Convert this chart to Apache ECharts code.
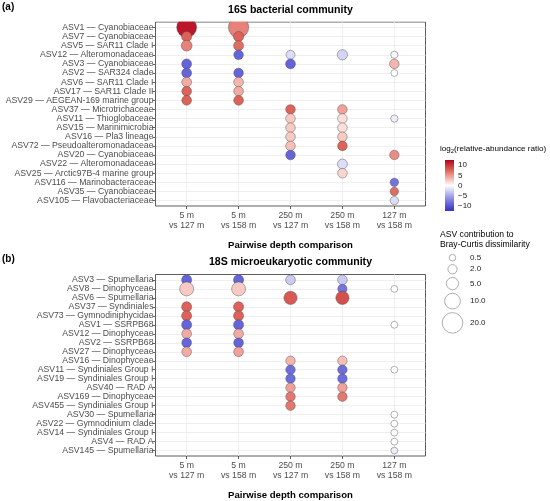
<!DOCTYPE html>
<html>
<head>
<meta charset="utf-8">
<script src="https://cdn.jsdelivr.net/npm/echarts@6/dist/echarts.min.js"></script>
<style>
html, body { margin: 0; padding: 0; background: #fff; }
#chart { width: 550px; height: 501px; }
</style>
</head>
<body>
<div id="chart"></div>
<script>
const comparisons = ['5 m\nvs 127 m', '5 m\nvs 158 m', '250 m\nvs 127 m', '250 m\nvs 158 m', '127 m\nvs 158 m']

const bactTaxa = [
    'ASV1 — Cyanobiaceae', 'ASV7 — Cyanobiaceae', 'ASV5 — SAR11 Clade I', 'ASV12 — Alteromonadaceae',
    'ASV3 — Cyanobiaceae', 'ASV2 — SAR324 clade', 'ASV6 — SAR11 Clade I', 'ASV17 — SAR11 Clade II',
    'ASV29 — AEGEAN-169 marine group', 'ASV37 — Microtrichaceae', 'ASV11 — Thioglobaceae', 'ASV15 — Marinimicrobia',
    'ASV16 — Pla3 lineage', 'ASV72 — Pseudoalteromonadaceae', 'ASV20 — Cyanobiaceae', 'ASV22 — Alteromonadaceae',
    'ASV25 — Arctic97B-4 marine group', 'ASV116 — Marinobacteraceae', 'ASV35 — Cyanobiaceae', 'ASV105 — Flavobacteriaceae'
]

const euTaxa = [
    'ASV3 — Spumellaria', 'ASV8 — Dinophyceae', 'ASV6 — Spumellaria', 'ASV37 — Syndiniales',
    'ASV73 — Gymnodiniphycidae', 'ASV1 — SSRPB68', 'ASV12 — Dinophyceae', 'ASV2 — SSRPB68',
    'ASV27 — Dinophyceae', 'ASV16 — Dinophyceae', 'ASV11 — Syndiniales Group I', 'ASV19 — Syndiniales Group I',
    'ASV40 — RAD A', 'ASV169 — Dinophyceae', 'ASV455 — Syndiniales Group I', 'ASV30 — Spumellaria',
    'ASV22 — Gymnodinium clade', 'ASV14 — Syndiniales Group I', 'ASV4 — RAD A', 'ASV145 — Spumellaria'
]

// [comparison, taxon, log2 ratio, contribution]
const bactPoints = [
    [0, 0, 11.5, 18.5], [0, 1, 7.5, 2.8], [0, 2, 6, 3.4], [0, 4, -9, 2.5], [0, 5, -9, 2.5],
    [0, 6, 4, 2.5], [0, 7, 7.5, 2.4], [0, 8, 7.5, 2.4],
    [1, 0, 6, 19.5], [1, 1, 7.5, 2.8], [1, 2, 7, 2.6], [1, 3, -9, 2.3], [1, 5, -9, 2.3],
    [1, 6, 3.5, 2.4], [1, 7, 4, 2.4], [1, 8, 7.5, 2.4],
    [2, 3, -2, 1.8], [2, 4, -9, 2.5], [2, 9, 7.5, 2.3], [2, 10, 2.5, 2.3], [2, 11, 2.5, 2.3],
    [2, 12, 2.5, 2.3], [2, 13, 3, 2.3], [2, 14, -9, 2.3],
    [3, 3, -2.5, 2.9], [3, 9, 4.5, 2.3], [3, 10, 1.5, 2.3], [3, 11, 1.5, 2.3], [3, 12, 2.5, 2.3],
    [3, 13, 7.5, 2.3], [3, 15, -2, 2.6], [3, 16, 2, 2.3],
    [4, 3, -0.5, 0.8], [4, 4, 3.5, 2.2], [4, 5, 0, 0.6], [4, 10, -1, 0.8], [4, 14, 5.5, 2.2],
    [4, 17, -8, 1.4], [4, 18, 7, 1.4], [4, 19, -2, 1.4]
]

const euPoints = [
    [0, 0, -9, 2.7], [0, 1, 2.5, 7.3], [0, 3, 7.5, 2.7], [0, 4, 7.5, 2.7], [0, 5, -9, 2.7],
    [0, 6, 4, 2.4], [0, 7, -9, 2.4], [0, 8, 4, 2.4],
    [1, 0, -9, 2.7], [1, 1, 2.5, 7.3], [1, 3, 7.5, 2.7], [1, 4, 7.5, 2.7], [1, 5, -9, 2.7],
    [1, 6, 4, 2.4], [1, 7, -9, 2.4], [1, 8, 4.5, 2.4],
    [2, 0, -3, 2.4], [2, 2, 8, 6.3], [2, 9, 3.5, 2.2], [2, 10, -8.5, 2.2], [2, 11, -8.5, 2.2],
    [2, 12, 4.5, 2.2], [2, 13, 6.5, 2.2], [2, 14, 6.5, 2.2],
    [3, 0, -3, 2.4], [3, 1, -8, 2.0], [3, 2, 8.5, 6.3], [3, 9, 3, 2.2], [3, 10, -8.5, 2.2],
    [3, 11, -8.5, 2.2], [3, 12, 4.5, 2.2], [3, 13, 6.5, 2.2],
    [4, 1, 0, 0.6], [4, 5, 0, 0.6], [4, 10, 0, 0.6], [4, 15, 0, 0.6], [4, 16, 0, 0.6],
    [4, 17, 0, 0.6], [4, 18, 0, 0.6], [4, 19, -1, 0.6]
]

const ratioTicks = [10, 5, 0, -5, -10]
const ratioMin = -12.5
const ratioMax = 12.5
const ratioColors = ['#3434c0', '#5656d4', '#7c7ce0', '#a6a6ea', '#d4d4f4', '#ffffff',
    '#f7cac4', '#ec988e', '#dc625a', '#c83638', '#b2001f']
const sizeBreaks = [0.5, 2, 5, 10, 20]

const font = 'Liberation Sans'
const diam = v => 4 + 3.7 * Math.sqrt(v)
const idx = arr => arr.map((_, i) => i)

const panels = [
    { top: 22, height: 184, taxa: bactTaxa, points: bactPoints, tag: '(a)', title: '16S bacterial community', tagY: 7, titleY: 10.5 },
    { top: 274.5, height: 185, taxa: euTaxa, points: euPoints, tag: '(b)', title: '18S microeukaryotic community', tagY: 259, titleY: 262 }
]

const chart = echarts.init(document.getElementById('chart'))

const graphics = []
// ggplot clips points to the panel: mask what sticks out above the top panel
graphics.push({ type: 'rect', z: 15, shape: { x: 150, y: 0, width: 280, height: 21.5 }, style: { fill: '#fff' } })
panels.forEach(p => {
    graphics.push({
        type: 'text', z: 20, x: 2, y: p.tagY,
        style: { text: p.tag, fontSize: 10, fontWeight: 'bold', fontFamily: font, fill: '#000', align: 'left', verticalAlign: 'middle' }
    })
    graphics.push({
        type: 'text', z: 20, x: 290.5, y: p.titleY,
        style: { text: p.title, fontSize: 10.6, fontWeight: 'bold', fontFamily: font, fill: '#000', align: 'center', verticalAlign: 'middle' }
    })
})

// colour legend
graphics.push({
    type: 'text', left: 440, top: 145,
    style: {
        text: 'log{s|2}(relative-abundance ratio)', fontSize: 8.1, fontFamily: font, fill: '#000',
        rich: { s: { fontSize: 5.8, fontFamily: font, padding: [5, 0, 0, 0] } }
    }
})
const barTop = 160, barH = 51
graphics.push({
    type: 'rect', shape: { x: 445, y: barTop, width: 9, height: barH },
    style: {
        fill: new echarts.graphic.LinearGradient(0, 0, 0, 1,
            ratioColors.slice().reverse().map((c, i) => ({ offset: i / (ratioColors.length - 1), color: c })))
    }
})
ratioTicks.forEach(t => {
    const y = barTop + (ratioMax - t) / (ratioMax - ratioMin) * barH
    graphics.push({
        type: 'text', x: 458, y: y,
        style: { text: t < 0 ? '−' + Math.abs(t) : String(t), fontSize: 8, fontFamily: font, fill: '#222', align: 'left', verticalAlign: 'middle' }
    })
})

// size legend
graphics.push({
    type: 'text', x: 440, y: 240,
    style: { text: 'ASV contribution to\nBray-Curtis dissimilarity', fontSize: 8.6, lineHeight: 10, fontFamily: font, fill: '#000', align: 'left', verticalAlign: 'middle' }
})
let cy = 257.7
sizeBreaks.forEach((b, i) => {
    if (i > 0) cy += (diam(sizeBreaks[i - 1]) + diam(b)) / 2 + 3.6
    graphics.push({
        type: 'circle', shape: { cx: 452.5, cy: cy, r: diam(b) / 2 },
        style: { fill: '#fff', stroke: '#999', lineWidth: 0.8 }
    })
    graphics.push({
        type: 'text', x: 470, y: cy,
        style: { text: b.toFixed(1), fontSize: 8, fontFamily: font, fill: '#222', align: 'left', verticalAlign: 'middle' }
    })
})

const option = {
    animation: false,
    textStyle: { fontFamily: font },
    grid: panels.map(p => ({
        left: 155.5, top: p.top, width: 270, height: p.height,
        show: true, borderColor: '#333', borderWidth: 0.8, backgroundColor: 'transparent'
    })),
    xAxis: panels.map((p, i) => ({
        type: 'value', gridIndex: i, min: -0.6, max: comparisons.length - 0.4,
        name: 'Pairwise depth comparison', nameLocation: 'middle', nameGap: 34,
        nameTextStyle: { fontSize: 9.6, fontWeight: 'bold', color: '#000' },
        axisLine: { show: false, onZero: false },
        axisTick: { show: true, length: 3, lineStyle: { color: '#333', width: 0.8 }, customValues: idx(comparisons) },
        axisLabel: {
            customValues: idx(comparisons), formatter: v => comparisons[v],
            fontSize: 8.7, lineHeight: 9.5, color: '#4d4d4d', margin: 5
        },
        splitLine: { show: true, lineStyle: { color: '#ebebeb', width: 0.8 } }
    })),
    yAxis: panels.map((p, i) => ({
        type: 'value', gridIndex: i, inverse: true, min: -0.6, max: p.taxa.length - 0.4,
        axisLine: { show: false, onZero: false },
        axisTick: { show: true, length: 3, lineStyle: { color: '#333', width: 0.8 }, customValues: idx(p.taxa) },
        axisLabel: {
            customValues: idx(p.taxa), formatter: v => p.taxa[v],
            fontSize: 8.7, color: '#4d4d4d', margin: 2
        },
        splitLine: { show: true, lineStyle: { color: '#ebebeb', width: 0.8 } }
    })),
    visualMap: {
        type: 'continuous', show: false, dimension: 2, seriesIndex: [0, 1],
        min: ratioMin, max: ratioMax, inRange: { color: ratioColors }
    },
    series: panels.map((p, i) => ({
        type: 'scatter', xAxisIndex: i, yAxisIndex: i,
        data: p.points,
        symbolSize: v => diam(v[3]),
        itemStyle: { borderColor: 'rgba(70,70,70,0.7)', borderWidth: 0.6, opacity: 1 }
    })),
    graphic: graphics
}

chart.setOption(option)
</script>
</body>
</html>
